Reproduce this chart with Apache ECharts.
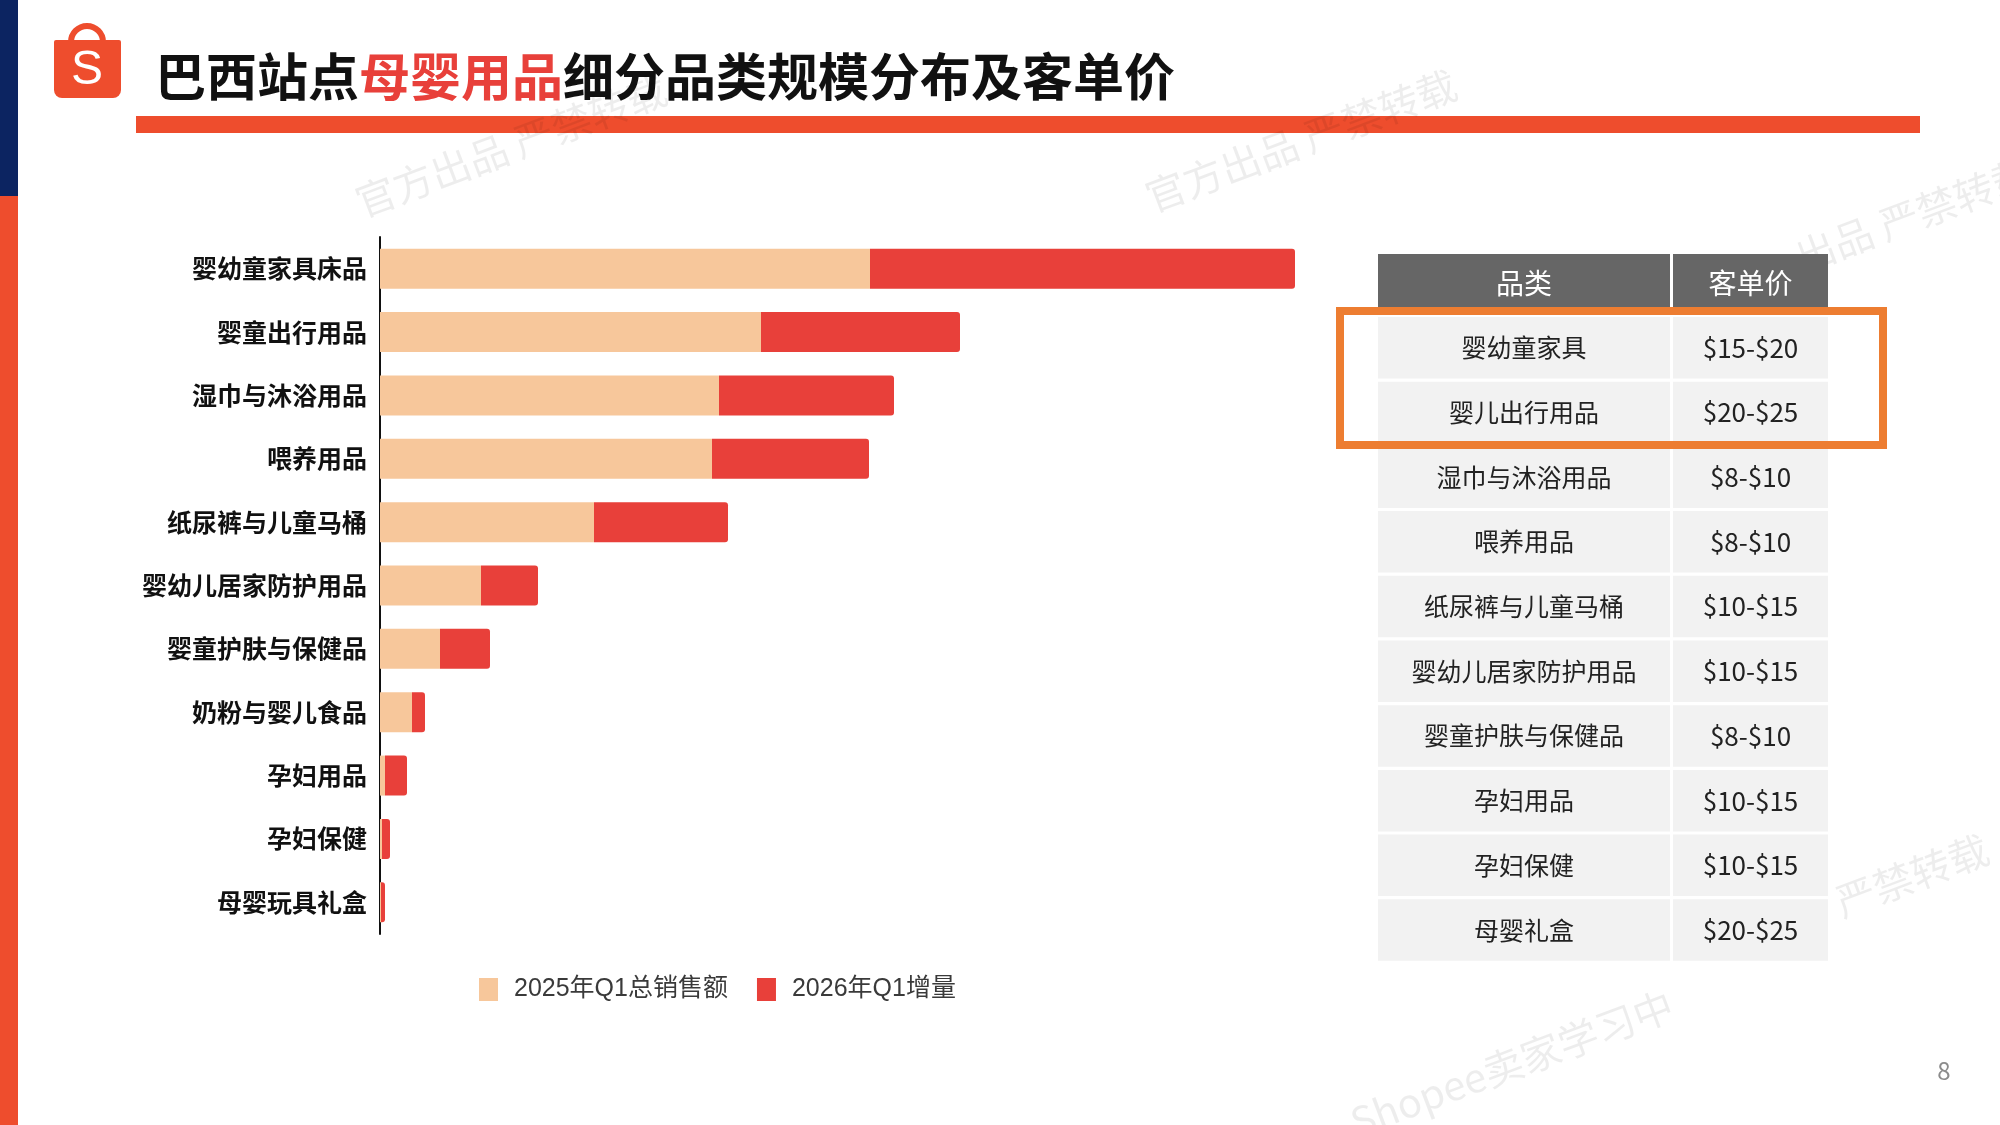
<!DOCTYPE html>
<html lang="zh-CN">
<head>
<meta charset="utf-8">
<title>巴西站点母婴用品细分品类规模分布及客单价</title>
<script src="https://cdn.jsdelivr.net/npm/echarts@6/dist/echarts.min.js"></script>
<style>
  html, body { margin: 0; padding: 0; background: #fff; }
  #main { width: 2000px; height: 1125px; }
</style>
</head>
<body>
<div id="main"></div>
<script>
// 条形图数据（单位估读）
const categories = ['婴幼童家具床品', '婴童出行用品', '湿巾与沐浴用品', '喂养用品', '纸尿裤与儿童马桶',
  '婴幼儿居家防护用品', '婴童护肤与保健品', '奶粉与婴儿食品', '孕妇用品', '孕妇保健', '母婴玩具礼盒'];
const sales2025 = [49.0, 38.1, 33.9, 33.2, 21.4, 10.1, 6.0, 3.2, 0.5, 0.2, 0.1];
const growth2026 = [42.5, 19.9, 17.5, 15.7, 13.4, 5.7, 5.0, 1.3, 2.2, 0.8, 0.4];
const seriesNames = ['2025年Q1总销售额', '2026年Q1增量'];

// 右侧表格数据
const tableHeader = ['品类', '客单价'];
const tableCats = ['婴幼童家具', '婴儿出行用品', '湿巾与沐浴用品', '喂养用品', '纸尿裤与儿童马桶',
  '婴幼儿居家防护用品', '婴童护肤与保健品', '孕妇用品', '孕妇保健', '母婴礼盒'];
const tablePrices = ['$15-$20', '$20-$25', '$8-$10', '$8-$10', '$10-$15',
  '$10-$15', '$8-$10', '$10-$15', '$10-$15', '$20-$25'];

const FONT = '"Noto Sans CJK SC", "Noto Sans", sans-serif';
const chart = echarts.init(document.getElementById('main'));

// 页面装饰：左侧色条、logo、标题、下划线、页码
const graphics = [
  { type: 'rect', shape: { x: 0, y: 0, width: 18, height: 196 }, style: { fill: '#0c2461' } },
  { type: 'rect', shape: { x: 0, y: 196, width: 18, height: 929 }, style: { fill: '#ee4d2d' } },
  { type: 'arc', shape: { cx: 87, cy: 42, r: 16, startAngle: Math.PI, endAngle: 2 * Math.PI },
    style: { stroke: '#ee4d2d', lineWidth: 6, fill: null } },
  { type: 'rect', shape: { x: 54, y: 40, width: 67, height: 58, r: [2, 2, 8, 8] }, style: { fill: '#ee4d2d' } },
  { type: 'text', x: 87, y: 71, style: { text: 'S', fill: '#fff', font: '48px "Liberation Sans", sans-serif',
    align: 'center', verticalAlign: 'middle' } },
  { type: 'text', x: 155, y: 77, style: {
      text: '{a|巴西站点}{b|母婴用品}{a|细分品类规模分布及客单价}',
      verticalAlign: 'middle',
      rich: {
        a: { fontSize: 51, fontWeight: 'bold', fontFamily: FONT, fill: '#111' },
        b: { fontSize: 51, fontWeight: 'bold', fontFamily: FONT, fill: '#e8403a' }
      } } },
  { type: 'rect', shape: { x: 136, y: 116, width: 1784, height: 17 }, style: { fill: '#ee4d2d' } },
  { type: 'text', x: 1944, y: 1071, style: { text: '8', fill: '#8c8c8c', font: '24px ' + FONT,
    align: 'center', verticalAlign: 'middle' } }
];

// 水印
const marks = [
  { x: 350, y: 185, t: '官方出品 严禁转载' },
  { x: 1140, y: 180, t: '官方出品 严禁转载' },
  { x: 1790, y: 240, t: '出品 严禁转载' },
  { x: 1345, y: 1105, t: 'Shopee卖家学习中' },
  { x: 1830, y: 885, t: '严禁转载' }
];
marks.forEach(m => graphics.push({ type: 'text', x: m.x, y: m.y, rotation: 0.36, z: 0,
  style: { text: m.t, fill: 'rgba(0,0,0,0.07)', font: '40px ' + FONT } }));

// 表格
const col1X = 1378, col1W = 292, col2X = 1673, col2W = 155;
const headY = 254, headH = 56, rowY0 = 317, rowStep = 64.7, rowH = 61.5;
graphics.push({ type: 'rect', shape: { x: col1X, y: headY, width: col1W, height: headH }, style: { fill: '#666666' } });
graphics.push({ type: 'rect', shape: { x: col2X, y: headY, width: col2W, height: headH }, style: { fill: '#666666' } });
tableHeader.forEach((h, i) => graphics.push({ type: 'text',
  x: i === 0 ? col1X + col1W / 2 : col2X + col2W / 2, y: headY + headH / 2 + 1,
  style: { text: h, fill: '#fff', font: '28px ' + FONT, align: 'center', verticalAlign: 'middle' } }));
tableCats.forEach((c, i) => {
  const y = rowY0 + i * rowStep;
  graphics.push({ type: 'rect', shape: { x: col1X, y: y, width: col1W, height: rowH }, style: { fill: '#f2f2f2' } });
  graphics.push({ type: 'rect', shape: { x: col2X, y: y, width: col2W, height: rowH }, style: { fill: '#f2f2f2' } });
  graphics.push({ type: 'text', x: col1X + col1W / 2, y: y + rowH / 2,
    style: { text: c, fill: '#222', font: '25px ' + FONT, align: 'center', verticalAlign: 'middle' } });
  graphics.push({ type: 'text', x: col2X + col2W / 2, y: y + rowH / 2,
    style: { text: tablePrices[i], fill: '#222', font: '26px ' + FONT, align: 'center', verticalAlign: 'middle' } });
});
// 高亮框
graphics.push({ type: 'rect', z: 10, shape: { x: 1340, y: 311, width: 543, height: 134 },
  style: { fill: null, stroke: '#ed7d31', lineWidth: 8 } });

const option = {
  backgroundColor: '#fff',
  animation: false,
  graphic: graphics,
  legend: {
    left: 474, top: 972,
    itemWidth: 19, itemHeight: 23, itemGap: 29,
    icon: 'rect',
    textStyle: { fontSize: 25, color: '#3a3a3a', fontFamily: '"Liberation Sans", ' + FONT,
      padding: [0, 0, 0, 11] },
    data: seriesNames
  },
  grid: { left: 380, top: 237, width: 1000, height: 697, containLabel: false },
  xAxis: { type: 'value', min: 0, max: 100, show: false },
  yAxis: {
    type: 'category', inverse: true, data: categories,
    axisLine: { show: true, lineStyle: { color: '#111', width: 2 } },
    axisTick: { show: false },
    axisLabel: { fontSize: 25, fontWeight: 'bold', color: '#111', fontFamily: FONT, margin: 13 }
  },
  series: [
    { name: seriesNames[0], type: 'bar', stack: 'total', data: sales2025, barWidth: 40,
      itemStyle: { color: '#f7c79b' } },
    { name: seriesNames[1], type: 'bar', stack: 'total', data: growth2026, barWidth: 40,
      itemStyle: { color: '#e8403a', borderRadius: [0, 3, 3, 0] } }
  ]
};
chart.setOption(option);
</script>
</body>
</html>
